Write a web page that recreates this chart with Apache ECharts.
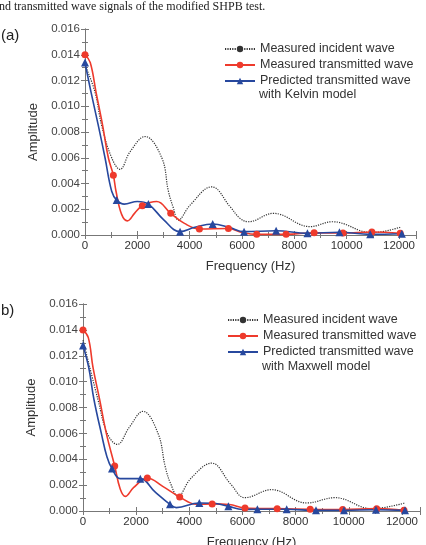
<!DOCTYPE html>
<html>
<head>
<meta charset="utf-8">
<script src="https://cdn.jsdelivr.net/npm/echarts@6/dist/echarts.min.js"></script>
<style>
  html, body { margin: 0; padding: 0; background: #fff; }
  #chart { width: 426px; height: 545px; }
</style>
</head>
<body>
<div id="chart"></div>
<script>
// [frequency Hz, amplitude]
// (a) Kelvin model
var incidentA = [[0, 0.0132], [382, 0.0111], [637, 0.0085], [1020, 0.0060], [1338, 0.0051], [1721, 0.00646], [2294, 0.00765], [2932, 0.0060], [3187, 0.0034], [3378, 0.0021], [3568, 0.00116], [4015, 0.00232], [4843, 0.00374], [5545, 0.0022], [5927, 0.00129], [6245, 0.00103], [7200, 0.00168], [8604, 0.00065], [9450, 0.00103], [10963, 0.00018], [12046, 0.0006]];
var measuredA = [[0, 0.0140], [200, 0.0134], [421, 0.0111], [675, 0.0085], [892, 0.0060], [1083, 0.00465], [1185, 0.0034], [1400, 0.0016], [1620, 0.0011], [1900, 0.0017], [2190, 0.00227], [2740, 0.0026], [3277, 0.00168], [3800, 0.0009], [4372, 0.00047], [5481, 0.0005], [6000, 0.0002], [6563, 0.00005], [7686, 0.00005], [8757, 0.00018], [9860, 0.00015], [10963, 0.00023], [12046, 0.00013]];
var predictedA = [[0, 0.0134], [230, 0.0111], [510, 0.0085], [765, 0.0060], [1020, 0.0034], [1211, 0.00271], [1500, 0.0024], [2000, 0.0026], [2422, 0.0024], [3000, 0.0012], [3633, 0.00026], [4200, 0.0006], [4881, 0.00085], [5500, 0.0006], [6080, 0.00026], [7304, 0.00033], [8502, 0.00013], [9725, 0.00021], [10899, 0.00005], [12110, 0.0001]];
var measuredMarksA = [0, 1083, 2190, 3277, 4372, 5481, 6563, 7686, 8757, 9860, 10963, 12046];
var predictedMarksA = [0, 1211, 2422, 3633, 4881, 6080, 7304, 8502, 9725, 10899, 12110];

// (b) Maxwell model
var incidentB = [[0, 0.0132], [564, 0.0086], [913, 0.0060], [1290, 0.00515], [1750, 0.0065], [2257, 0.0077], [2822, 0.0060], [3097, 0.0034], [3300, 0.0021], [3574, 0.00113], [4050, 0.0025], [4842, 0.0037], [5550, 0.0021], [6095, 0.00103], [7100, 0.00165], [8416, 0.00062], [9481, 0.00103], [10862, 0.00018], [12115, 0.00062]];
var measuredB = [[0, 0.0140], [200, 0.0134], [376, 0.0111], [627, 0.0086], [878, 0.0060], [1192, 0.00348], [1400, 0.0017], [1593, 0.00113], [1900, 0.0018], [2420, 0.00255], [3000, 0.0019], [3638, 0.00108], [4260, 0.00052], [4860, 0.00055], [5500, 0.0005], [6095, 0.00023], [7306, 0.00018], [8548, 0.00013], [9770, 0.00011], [11050, 0.00018], [12077, 0.00005]];
var predictedB = [[0, 0.0128], [214, 0.0111], [414, 0.0086], [690, 0.0060], [900, 0.0042], [1091, 0.00328], [1400, 0.0025], [1800, 0.0025], [2157, 0.0025], [2700, 0.0015], [3273, 0.00052], [3510, 0.00026], [4376, 0.00062], [4900, 0.0006], [5470, 0.00036], [6000, 0.00012], [6560, 0.00013], [7665, 0.00013], [8767, 0.00005], [9820, 0.00005], [11023, 0.0001], [12115, 0.00005]];
var measuredMarksB = [0, 1192, 2420, 3638, 4860, 6095, 7306, 8548, 9770, 11050, 12077];
var predictedMarksB = [0, 1091, 2157, 3273, 4376, 5470, 6560, 7665, 8767, 9820, 11023, 12115];

var xTicks = [0, 2000, 4000, 6000, 8000, 10000, 12000];
var names = ['Measured incident wave', 'Measured transmitted wave', 'Predicted transmitted wave'];

var RED = '#ee3a2c';
var BLUE = '#27489e';
var FONT = 'Liberation Sans';

var chart = echarts.init(document.getElementById('chart'));

// only the listed frequencies carry a marker
function withMarks(curve, marks) {
  return curve.map(function (p) {
    return { value: p, symbol: marks.indexOf(p[0]) >= 0 ? undefined : 'none' };
  });
}

function xAxes(gi, max) {
  var base = {
    gridIndex: gi, type: 'value', min: 0, max: max, interval: 2000,
    axisLine: { show: true, lineStyle: { color: '#777', width: 1 } },
    axisTick: { show: true, inside: true, length: 4, lineStyle: { color: '#777' } },
    minorTick: { show: true, splitNumber: 2, length: 3, lineStyle: { color: '#777' } },
    splitLine: { show: false }
  };
  var bottom = echarts.util.merge({
    position: 'bottom',
    name: 'Frequency (Hz)', nameLocation: 'middle', nameGap: 25,
    nameTextStyle: { fontFamily: FONT, fontSize: 13, color: '#333' },
    axisLabel: {
      fontFamily: FONT, fontSize: 11.5, color: '#333', margin: 5,
      customValues: xTicks, formatter: function (v) { return v; }
    }
  }, base, true);
  var top = echarts.util.merge({ position: 'top', axisLabel: { show: false } }, base, true);
  return [bottom, top];
}

function yAxes(gi) {
  var base = {
    gridIndex: gi, type: 'value', min: 0, max: 0.016, interval: 0.002,
    axisLine: { show: true, lineStyle: { color: '#777', width: 1 } },
    axisTick: { show: true, inside: true, length: 4, lineStyle: { color: '#777' } },
    minorTick: { show: true, splitNumber: 2, length: 3, lineStyle: { color: '#777' } },
    splitLine: { show: false }
  };
  var left = echarts.util.merge({
    position: 'left',
    name: 'Amplitude', nameLocation: 'middle', nameGap: 38,
    nameTextStyle: { fontFamily: FONT, fontSize: 13, color: '#333' },
    axisLabel: {
      fontFamily: FONT, fontSize: 11.5, color: '#444', margin: 5,
      formatter: function (v) { return v.toFixed(3); }
    }
  }, base, true);
  var right = echarts.util.merge({ position: 'right', axisLabel: { show: false } }, base, true);
  return [left, right];
}

function seriesFor(gi, incident, measured, measuredMarks, predicted, predictedMarks) {
  var ax = gi * 2;
  return [{
    name: names[0], type: 'line', xAxisIndex: ax, yAxisIndex: ax,
    data: incident.map(function (p) { return { value: p, symbol: 'none' }; }),
    smooth: 0.4, symbol: 'circle', symbolSize: 3,
    itemStyle: { color: '#333' },
    lineStyle: { color: '#333', width: 1.2, type: [1.2, 1.2] }
  }, {
    name: names[1], type: 'line', xAxisIndex: ax, yAxisIndex: ax,
    data: withMarks(measured, measuredMarks),
    smooth: 0.4, symbol: 'circle', symbolSize: 7,
    itemStyle: { color: RED },
    lineStyle: { color: RED, width: 1.6 }
  }, {
    name: names[2], type: 'line', xAxisIndex: ax, yAxisIndex: ax,
    data: withMarks(predicted, predictedMarks),
    smooth: 0.4, symbol: 'triangle', symbolSize: 8,
    itemStyle: { color: BLUE },
    lineStyle: { color: BLUE, width: 1.6 }
  }];
}

function legendAt(left, top) {
  return {
    left: left, top: top, orient: 'vertical', data: names,
    padding: 0, itemWidth: 30, itemHeight: 8, itemGap: 2,
    selectedMode: false,
    textStyle: { fontFamily: FONT, fontSize: 12.5, color: '#333', lineHeight: 14 }
  };
}

var xa = xAxes(0, 12650), xb = xAxes(1, 12680);
var ya = yAxes(0), yb = yAxes(1);

var option = {
  animation: false,
  grid: [
    { left: 85, top: 29, width: 331, height: 206, outerBoundsMode: 'none' },
    { left: 83, top: 304, width: 337, height: 207, outerBoundsMode: 'none' }
  ],
  xAxis: [xa[0], xa[1], xb[0], xb[1]],
  yAxis: [ya[0], ya[1], yb[0], yb[1]],
  legend: [legendAt(224, 42), legendAt(227, 313)],
  series: seriesFor(0, incidentA, measuredA, measuredMarksA, predictedA, predictedMarksA)
    .concat(seriesFor(1, incidentB, measuredB, measuredMarksB, predictedB, predictedMarksB)),
  graphic: [
    { type: 'text', left: -1, top: 1, style: { text: 'nd transmitted wave signals of the modified SHPB test.', font: '12px "Liberation Serif"', fill: '#222' } },
    { type: 'text', left: 1, top: 28, style: { text: '(a)', font: '15px "Liberation Sans"', fill: '#222' } },
    { type: 'text', left: 1, top: 303, style: { text: 'b)', font: '15px "Liberation Sans"', fill: '#222' } },
    { type: 'text', left: 259, top: 88, style: { text: 'with Kelvin model', font: '12.5px "Liberation Sans"', fill: '#333' } },
    { type: 'text', left: 262, top: 360, style: { text: 'with Maxwell model', font: '12.5px "Liberation Sans"', fill: '#333' } }
  ]
};

chart.setOption(option);
</script>
</body>
</html>
